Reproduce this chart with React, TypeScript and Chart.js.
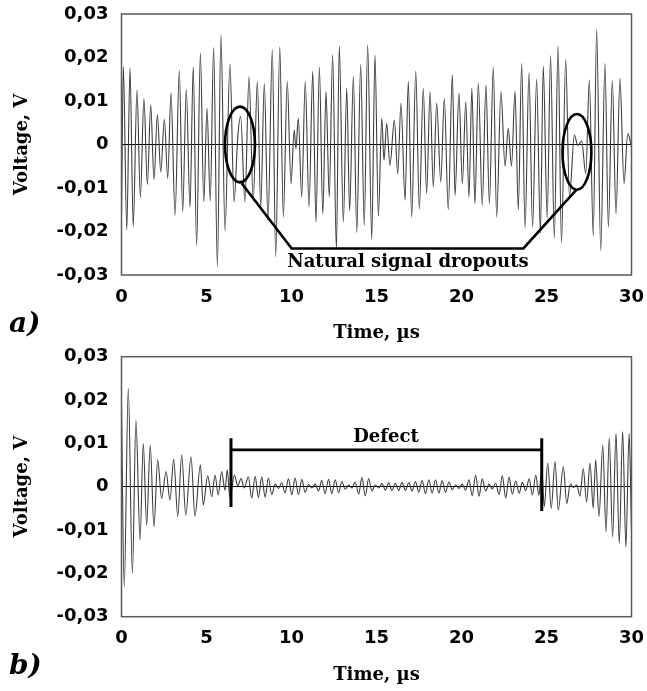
import React, { useEffect, useRef } from "react";
import { Chart, registerables } from "chart.js";

Chart.register(...registerables);

// ---------- data ----------
const X_TICKS = [0, 5, 10, 15, 20, 25, 30];
const Y_TICKS = [-0.03, -0.02, -0.01, 0, 0.01, 0.02, 0.03];
const Y_TICK_LABELS = ["-0,03", "-0,02", "-0,01", "0", "0,01", "0,02", "0,03"];

const X_TITLE = "Time, \u00b5s";
const Y_TITLE = "Voltage, V";
const PANEL_A_TAG = "a)";
const PANEL_B_TAG = "b)";
const DROPOUT_LABEL = "Natural signal dropouts";
const DEFECT_LABEL = "Defect";

// panel a) – extremes of the received signal (time in µs, voltage in V)
const A_TIME = [
  0, 0.11, 0.31, 0.5, 0.69, 0.91, 1.11, 1.32, 1.52, 1.72,
  1.91, 2.11, 2.31, 2.52, 2.72, 2.91, 3.15, 3.4, 3.6, 3.81,
  4.03, 4.22, 4.42, 4.64, 4.84, 5.03, 5.22, 5.42, 5.64, 5.85,
  6.09, 6.38, 6.62, 6.84, 7.01, 7.26, 7.5, 7.75, 7.99, 8.19,
  8.4, 8.62, 8.87, 9.07, 9.31, 9.52, 9.75, 9.97, 10.16, 10.26,
  10.4, 10.6, 10.81, 11.03, 11.25, 11.44, 11.64, 11.84, 12.03, 12.22,
  12.42, 12.64, 12.81, 13.05, 13.25, 13.42, 13.64, 13.84, 14.07, 14.28,
  14.48, 14.72, 14.91, 15.11, 15.31, 15.44, 15.6, 15.79, 16.05, 16.25,
  16.44, 16.68, 16.87, 17.07, 17.31, 17.52, 17.75, 17.95, 18.15, 18.34,
  18.54, 18.78, 18.99, 19.22, 19.46, 19.62, 19.85, 20.05, 20.25, 20.44,
  20.61, 20.79, 20.99, 21.22, 21.44, 21.64, 21.87, 22.07, 22.32, 22.56,
  22.75, 22.94, 23.15, 23.34, 23.54, 23.74, 23.97, 24.18, 24.42, 24.64,
  24.81, 25.04, 25.24, 25.46, 25.68, 25.88, 26.13, 26.35, 26.64, 26.84,
  27.07, 27.31, 27.52, 27.75, 27.95, 28.19, 28.44, 28.64, 28.87, 29.09,
  29.32, 29.56, 29.78, 30.0,
];
const A_VOLT = [
  -0.016, 0.0179, -0.0196, 0.0175, -0.0188, 0.0125, -0.0122, 0.0106, -0.0092, 0.0091,
  -0.0081, 0.0068, -0.0063, 0.0058, -0.0078, 0.0119, -0.0163, 0.017, -0.0155, 0.0127,
  -0.0144, 0.0178, -0.0232, 0.021, -0.0132, 0.0083, -0.013, 0.0223, -0.0281, 0.0252,
  -0.0199, 0.0185, -0.0132, 0.0018, 0.0064, -0.0132, 0.0156, -0.013, 0.0145, -0.0145,
  0.014, -0.0175, 0.0217, -0.0258, 0.0224, -0.0167, 0.0145, -0.009, 0.0033, -0.001,
  0.006, -0.0121, 0.0145, -0.0144, 0.0168, -0.0178, 0.0178, -0.016, 0.0122, -0.0121,
  0.0206, -0.0242, 0.0226, -0.0178, 0.0129, -0.0152, 0.0156, -0.0202, 0.0183, -0.0186,
  0.0229, -0.0217, 0.0205, -0.0165, 0.006, -0.0036, 0.0048, -0.0048, 0.0056, -0.0067,
  0.0095, -0.0128, 0.0145, -0.0167, 0.0168, -0.0148, 0.0129, -0.0113, 0.0122, -0.0098,
  0.0095, -0.0086, 0.0106, -0.015, 0.016, -0.0117, 0.0118, -0.009, 0.0098, -0.0121,
  0.0129, -0.0136, 0.0141, -0.014, 0.0137, -0.0136, 0.0178, -0.0167, 0.0122, -0.005,
  0.0037, -0.005, 0.0122, -0.015, 0.0186, -0.0192, 0.0165, -0.019, 0.015, -0.0204,
  0.018, -0.017, 0.0204, -0.0215, 0.0227, -0.0226, 0.0195, -0.012, 0.0022, -0.0002,
  0.0008, -0.0067, 0.0148, -0.021, 0.0264, -0.0244, 0.0186, -0.019, 0.0147, -0.016,
  0.0152, -0.009, 0.0025, -0.0005,
];

// panel b) – extremes of the received signal with a defect
const B_TIME = [
  0, 0.16, 0.4, 0.64, 0.85, 1.09, 1.28, 1.48, 1.69, 1.91,
  2.13, 2.36, 2.62, 2.85, 3.07, 3.31, 3.54, 3.78, 4.09, 4.32,
  4.64, 4.81, 5.07, 5.31, 5.5, 5.69, 5.89, 6.09, 6.22, 6.38,
  6.64, 6.84, 7.03, 7.22, 7.46, 7.66, 7.86, 8.05, 8.25, 8.45,
  8.64, 8.84, 9.04, 9.23, 9.43, 9.62, 9.82, 10.02, 10.21, 10.41,
  10.61, 10.8, 11.0, 11.19, 11.39, 11.59, 11.78, 11.98, 12.18, 12.37,
  12.57, 12.77, 12.96, 13.16, 13.36, 13.55, 13.75, 13.95, 14.14, 14.34,
  14.54, 14.73, 14.93, 15.13, 15.32, 15.52, 15.72, 15.91, 16.11, 16.31,
  16.5, 16.7, 16.9, 17.09, 17.29, 17.49, 17.68, 17.88, 18.08, 18.27,
  18.47, 18.67, 18.86, 19.06, 19.26, 19.45, 19.65, 19.85, 20.04, 20.24,
  20.44, 20.63, 20.83, 21.03, 21.22, 21.42, 21.62, 21.81, 22.01, 22.21,
  22.4, 22.6, 22.8, 22.99, 23.19, 23.39, 23.58, 23.78, 23.98, 24.17,
  24.37, 24.55, 24.72, 24.87, 25.07, 25.28, 25.5, 25.69, 25.99, 26.19,
  26.4, 26.58, 26.78, 26.97, 27.16, 27.36, 27.56, 27.75, 27.89, 28.09,
  28.31, 28.5, 28.69, 28.89, 29.09, 29.28, 29.48, 29.67, 29.86, 30.0,
];
const B_VOLT = [
  0.0185, -0.0231, 0.0227, -0.02, 0.0153, -0.0123, 0.01, -0.0089, 0.0096, -0.0093,
  0.0062, -0.0027, 0.0035, -0.0031, 0.0063, -0.0069, 0.0073, -0.0066, 0.0069, -0.0068,
  0.005, -0.0042, 0.0025, -0.0023, 0.0027, -0.0019, 0.0035, -0.0008, 0.0039, -0.0027,
  0.0027, 0.0002, 0.0019, -0.0003, 0.0023, -0.0026, 0.0024, -0.0025, 0.0022, -0.0024,
  0.002, -0.0018, 0.0006, -0.0004, 0.0009, -0.0014, 0.0018, -0.0019, 0.002, -0.0018,
  0.0017, -0.0013, 0.0005, -0.0003, 0.0006, -0.001, 0.0015, -0.0016, 0.0017, -0.0016,
  0.0016, -0.0014, 0.0012, -0.0006, 0.0004, -0.0003, 0.0011, -0.0017, 0.0021, -0.0021,
  0.0019, -0.001, 0.0004, -0.0003, 0.0007, -0.0008, 0.0009, -0.0009, 0.0008, -0.0009,
  0.001, -0.0008, 0.0009, -0.001, 0.0012, -0.0013, 0.0015, -0.0016, 0.0016, -0.0015,
  0.0016, -0.0015, 0.0014, -0.0013, 0.0011, -0.0007, 0.0004, -0.0004, 0.0006, -0.0008,
  0.0016, -0.0021, 0.0027, -0.0022, 0.0018, -0.001, 0.0006, -0.0005, 0.0008, -0.0018,
  0.0025, -0.0026, 0.0022, -0.0017, 0.0013, -0.0015, 0.001, -0.0009, 0.0018, -0.0019,
  0.0027, -0.002, 0.0039, -0.0046, 0.0054, -0.005, 0.0058, -0.0054, 0.0046, -0.0039,
  0.0006, -0.0002, 0.0004, -0.0022, 0.0042, -0.0035, 0.0054, -0.005, 0.0062, -0.0069,
  0.0096, -0.0104, 0.0112, -0.0116, 0.0123, -0.0131, 0.0127, -0.0139, 0.0123, -0.01,
];

// annotation anchors (data units: µs, V)
const DROPOUT_ELLIPSES = [
  { t: 6.97, v: 0.0, rt: 0.88, rv: 0.0087 },
  { t: 26.79, v: -0.0017, rt: 0.85, rv: 0.0087 },
];
const DROPOUT_LEADER = [
  [7.07, -0.0089],
  [10.01, -0.0239],
  [23.64, -0.0239],
  [26.78, -0.0103],
];
const DROPOUT_LABEL_AT = [16.85, -0.0272];
const DEFECT_START = 6.44;
const DEFECT_END = 24.72;
const DEFECT_BAR_V = 0.0085;
const DEFECT_TOP_V = 0.0112;
const DEFECT_LEFT_BOTTOM_V = -0.0047;
const DEFECT_RIGHT_BOTTOM_V = -0.0056;
const DEFECT_LABEL_AT = [15.56, 0.0115];

// ---------- rendering ----------
const SERIF = '"DejaVu Serif", "Liberation Serif", serif';
const SANS = '"DejaVu Sans", "Liberation Sans", sans-serif';
const W = 647;

type PanelCfg = {
  height: number;
  areaTop: number;
  areaBottom: number;
  time: number[];
  volt: number[];
  tag: string;
  tagY: number;
  xTitleY: number;
  xTickPad: number;
  decorate: (chart: any) => void;
};

function buildChart(canvas: HTMLCanvasElement, cfg: PanelCfg) {
  const data = cfg.time.map((t, i) => ({ x: t, y: cfg.volt[i] }));
  const deco = {
    id: "deco",
    afterDatasetsDraw(chart: any) {
      const ctx = chart.ctx;
      const a = chart.chartArea;
      ctx.save();
      ctx.strokeStyle = "#5a5a5a";
      ctx.lineWidth = 1.5;
      ctx.strokeRect(a.left, a.top, a.right - a.left, a.bottom - a.top);
      ctx.restore();
      cfg.decorate(chart);
      ctx.save();
      ctx.fillStyle = "#000";
      ctx.font = `bold 18px ${SERIF}`;
      ctx.textAlign = "center";
      ctx.textBaseline = "middle";
      ctx.fillText(X_TITLE, (a.left + a.right) / 2, cfg.xTitleY);
      ctx.translate(22, (a.top + a.bottom) / 2);
      ctx.rotate(-Math.PI / 2);
      ctx.fillText(Y_TITLE, 0, 0);
      ctx.restore();
      ctx.save();
      ctx.fillStyle = "#000";
      ctx.font = `italic bold 28px ${SERIF}`;
      ctx.textAlign = "left";
      ctx.textBaseline = "middle";
      ctx.fillText(cfg.tag, 9, cfg.tagY);
      ctx.restore();
    },
  };

  return new Chart(canvas, {
    type: "line",
    data: {
      datasets: [
        {
          data,
          borderColor: "#3c3c3c",
          borderWidth: 1.1,
          pointRadius: 0,
          cubicInterpolationMode: "monotone",
          fill: false,
        },
      ],
    },
    options: {
      animation: false,
      responsive: false,
      maintainAspectRatio: false,
      events: [],
      layout: { padding: { left: 0, right: W - 631.5, top: cfg.areaTop, bottom: 0 } },
      plugins: { legend: { display: false }, tooltip: { enabled: false } },
      scales: {
        x: {
          type: "linear",
          min: 0,
          max: 30,
          afterBuildTicks: (s: any) => {
            s.ticks = X_TICKS.map((v) => ({ value: v }));
          },
          afterFit: (s: any) => {
            s.height = cfg.height - cfg.areaBottom;
            s.paddingLeft = 0;
            s.paddingRight = 0;
            s.paddingTop = 0;
            s.paddingBottom = 0;
          },
          grid: { display: false, drawTicks: false },
          border: { display: false },
          ticks: {
            padding: cfg.xTickPad,
            maxRotation: 0,
            autoSkip: false,
            color: "#000",
            font: { family: SANS, size: 18, weight: "bold" },
            callback: (v: any) => String(v),
          },
        },
        y: {
          type: "linear",
          min: -0.03,
          max: 0.03,
          afterBuildTicks: (s: any) => {
            s.ticks = Y_TICKS.map((v) => ({ value: v }));
          },
          afterFit: (s: any) => {
            s.width = 121.5;
            s.paddingLeft = 0;
            s.paddingRight = 0;
            s.paddingTop = 0;
            s.paddingBottom = 0;
          },
          grid: {
            drawTicks: false,
            color: (c: any) => (c.tick && Math.abs(c.tick.value) < 1e-9 ? "#000" : "rgba(0,0,0,0)"),
            lineWidth: 1,
          },
          border: { display: false },
          ticks: {
            padding: 13,
            autoSkip: false,
            color: "#000",
            font: { family: SANS, size: 18, weight: "bold" },
            callback: (v: any) => {
              const i = Y_TICKS.findIndex((t) => Math.abs(t - v) < 1e-9);
              return i >= 0 ? Y_TICK_LABELS[i] : "";
            },
          },
        },
      },
    },
    plugins: [deco],
  } as any);
}

function decorateA(chart: any) {
  const ctx = chart.ctx;
  const xs = chart.scales.x;
  const ys = chart.scales.y;
  const px = (t: number) => xs.getPixelForValue(t);
  const py = (v: number) => ys.getPixelForValue(v);
  ctx.save();
  ctx.strokeStyle = "#000";
  ctx.lineWidth = 2.6;
  DROPOUT_ELLIPSES.forEach((e) => {
    const cx = px(e.t);
    const cy = py(e.v);
    const rx = Math.abs(px(e.t + e.rt) - cx);
    const ry = Math.abs(py(e.v + e.rv) - cy);
    ctx.beginPath();
    ctx.ellipse(cx, cy, rx, ry, 0, 0, Math.PI * 2);
    ctx.stroke();
  });
  ctx.beginPath();
  DROPOUT_LEADER.forEach(([t, v], i) => {
    if (i === 0) ctx.moveTo(px(t), py(v));
    else ctx.lineTo(px(t), py(v));
  });
  ctx.stroke();
  ctx.fillStyle = "#000";
  ctx.font = `bold 18px ${SERIF}`;
  ctx.textAlign = "center";
  ctx.textBaseline = "middle";
  ctx.fillText(DROPOUT_LABEL, px(DROPOUT_LABEL_AT[0]), py(DROPOUT_LABEL_AT[1]));
  ctx.restore();
}

function decorateB(chart: any) {
  const ctx = chart.ctx;
  const xs = chart.scales.x;
  const ys = chart.scales.y;
  const px = (t: number) => xs.getPixelForValue(t);
  const py = (v: number) => ys.getPixelForValue(v);
  ctx.save();
  ctx.strokeStyle = "#000";
  ctx.lineWidth = 3;
  ctx.beginPath();
  ctx.moveTo(px(DEFECT_START), py(DEFECT_TOP_V));
  ctx.lineTo(px(DEFECT_START), py(DEFECT_LEFT_BOTTOM_V));
  ctx.moveTo(px(DEFECT_END), py(DEFECT_TOP_V));
  ctx.lineTo(px(DEFECT_END), py(DEFECT_RIGHT_BOTTOM_V));
  ctx.stroke();
  ctx.lineWidth = 2.6;
  ctx.beginPath();
  ctx.moveTo(px(DEFECT_START), py(DEFECT_BAR_V));
  ctx.lineTo(px(DEFECT_END), py(DEFECT_BAR_V));
  ctx.stroke();
  ctx.fillStyle = "#000";
  ctx.font = `bold 18px ${SERIF}`;
  ctx.textAlign = "center";
  ctx.textBaseline = "middle";
  ctx.fillText(DEFECT_LABEL, px(DEFECT_LABEL_AT[0]), py(DEFECT_LABEL_AT[1]));
  ctx.restore();
}

export default function App() {
  const refA = useRef<HTMLCanvasElement>(null);
  const refB = useRef<HTMLCanvasElement>(null);

  useEffect(() => {
    const a = buildChart(refA.current!, {
      height: 345,
      areaTop: 14,
      areaBottom: 275,
      time: A_TIME,
      volt: A_VOLT,
      tag: PANEL_A_TAG,
      tagY: 325,
      xTitleY: 333,
      xTickPad: 12,
      decorate: decorateA,
    });
    const b = buildChart(refB.current!, {
      height: 346,
      areaTop: 11.7,
      areaBottom: 271.7,
      time: B_TIME,
      volt: B_VOLT,
      tag: PANEL_B_TAG,
      tagY: 322,
      xTitleY: 330,
      xTickPad: 11,
      decorate: decorateB,
    });
    return () => {
      a.destroy();
      b.destroy();
    };
  }, []);

  return (
    <div style={{ position: "absolute", left: 0, top: 0, width: W, height: 691, background: "#fff" }}>
      <canvas
        ref={refA}
        width={W}
        height={345}
        style={{ position: "absolute", left: 0, top: 0, width: W, height: 345 }}
      />
      <canvas
        ref={refB}
        width={W}
        height={346}
        style={{ position: "absolute", left: 0, top: 345, width: W, height: 346 }}
      />
    </div>
  );
}
